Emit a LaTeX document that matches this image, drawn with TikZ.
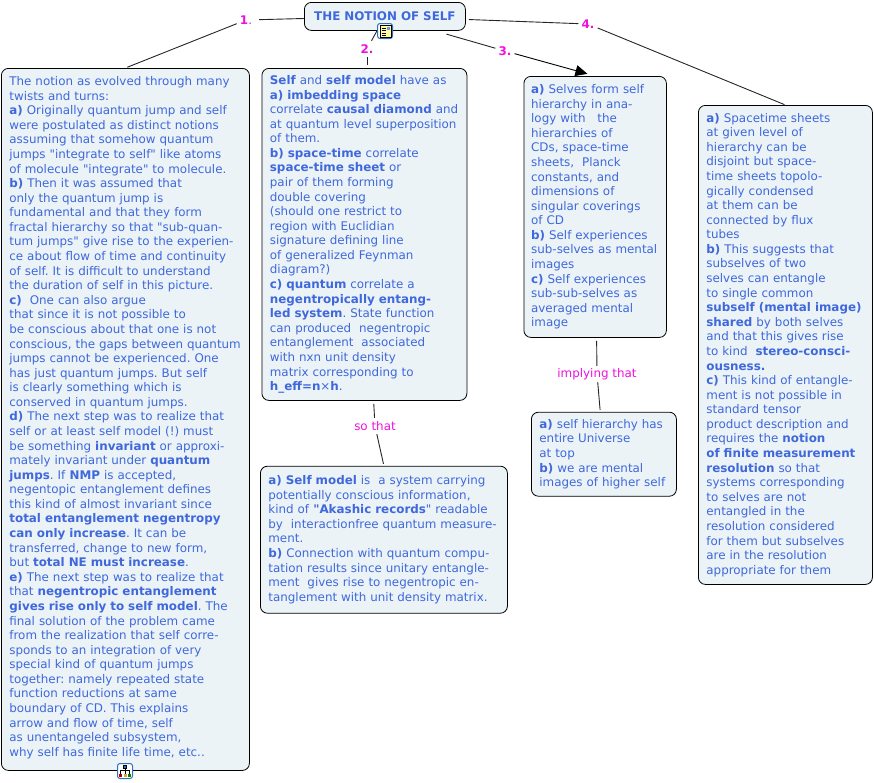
\documentclass[tikz,border=0pt]{standalone}
\usepackage{fontspec}
\setmainfont{DejaVu Sans}[Ligatures=TeXOff]
\usepackage{xcolor}
\usetikzlibrary{arrows.meta, positioning}
\definecolor{selfblue}{HTML}{3F68DC}
\definecolor{selffill}{HTML}{EBF3F7}
\definecolor{selfpink}{HTML}{EE11DD}
\definecolor{iconblue}{HTML}{2F6FC0}
\frenchspacing

\begin{document}
\begin{tikzpicture}[
    x=1pt, y=-1pt,
    textbox/.style={draw=black, line width=0.8pt, rounded corners=7pt, fill=selffill, text=selfblue, align=left, inner xsep=8pt, inner ysep=0pt, font=\fontsize{11.9}{14.58}\selectfont},
    link/.style={font=\fontsize{11.9}{14}\selectfont, text=selfpink, inner xsep=3pt, inner ysep=0pt, minimum height=16pt},
    conn/.style={draw=black!85, line width=0.9pt},
    icon/.style={draw=iconblue, rounded corners=2.5pt, fill=white, line width=1pt, minimum size=15pt, inner sep=0pt},
    arrow/.style={-{Triangle[length=12pt, width=11pt]}, conn, draw=black}
]
    \useasboundingbox (0,0) rectangle (874,782);

    \node[textbox, anchor=north west, text width=145pt, minimum height=28pt, align=center, font=\fontsize{11.9}{14.58}\selectfont\bfseries] (title) at (304,2) {THE NOTION OF SELF};

    \node[textbox, anchor=north west, text width=232pt, minimum height=702pt] (boxone) at (1,68) {The notion as evolved through many\\
twists and turns:\\
\textbf{a)} Originally quantum jump and self\\
were postulated as distinct notions\\
assuming that somehow quantum\\
jumps "integrate to self" like atoms\\
of molecule "integrate" to molecule.\\
\textbf{b)} Then it was assumed that\\
only the quantum jump is\\
fundamental and that they form\\
fractal hierarchy so that "sub-quan-\\
tum jumps" give rise to the experien-\\
ce about flow of time and continuity\\
of self. It is difficult to understand\\
the duration of self in this picture.\\
\textbf{c)}\ \ One can also argue\\
that since it is not possible to\\
be conscious about that one is not\\
conscious, the gaps between quantum\\
jumps cannot be experienced. One\\
has just quantum jumps. But self\\
is clearly something which is\\
conserved in quantum jumps.\\
\textbf{d)} The next step was to realize that\\
self or at least self model (!) must\\
be something \textbf{invariant} or approxi-\\
mately invariant under \textbf{quantum}\\
\textbf{jumps}. If \textbf{NMP} is accepted,\\
negentopic entanglement defines\\
this kind of almost invariant since\\
\textbf{total entanglement negentropy}\\
\textbf{can only increase}. It can be\\
transferred, change to new form,\\
but \textbf{total NE must increase}.\\
\textbf{e)} The next step was to realize that\\
that \textbf{negentropic entanglement}\\
\textbf{gives rise only to self model}. The\\
final solution of the problem came\\
from the realization that self corre-\\
sponds to an integration of very\\
special kind of quantum jumps\\
together: namely repeated state\\
function reductions at same\\
boundary of CD. This explains\\
arrow and flow of time, self\\
as unentangeled subsystem,\\
why self has finite life time, etc..\rule[-6pt]{0pt}{6pt}};

    \node[textbox, anchor=north west, text width=189pt, minimum height=332pt] (boxtwo) at (261.5,68) {\textbf{Self} and \textbf{self model} have as\\
\textbf{a) imbedding space}\\
correlate \textbf{causal diamond} and\\
at quantum level superposition\\
of them.\\
\textbf{b) space-time} correlate\\
\textbf{space-time sheet} or\\
pair of them forming\\
double covering\\
(should one restrict to\\
region with Euclidian\\
signature defining line\\
of generalized Feynman\\
diagram?)\\
\textbf{c) quantum} correlate a\\
\textbf{negentropically entang-}\\
\textbf{led system}. State function\\
can produced\ \ negentropic\\
entanglement\ \ associated\\
with nxn unit density\\
matrix corresponding to\\
\textbf{h\_eff=n}×\textbf{h}.};

    \node[textbox, below=65pt of boxtwo.south west, anchor=north west, xshift=-1.5pt, text width=231pt, minimum height=147pt] (boxso) {\textbf{a) Self model} is\ \ a system carrying\\
potentially conscious information,\\
kind of \textbf{"Akashic records}" readable\\
by\ \ interactionfree quantum measure-\\
ment.\\
\textbf{b)} Connection with quantum compu-\\
tation results since unitary entangle-\\
ment\ \ gives rise to negentropic en-\\
tanglement with unit density matrix.};

    \node[textbox, anchor=north west, text width=128pt, inner xsep=7.25pt, minimum height=261pt] (boxthree) at (523.5,76) {\textbf{a)} Selves form self\\
hierarchy in ana-\\
logy with\ \ \ the\\
hierarchies of\\
CDs, space-time\\
sheets,\ \ Planck\\
constants, and\\
dimensions of\\
singular coverings\\
of CD\\
\textbf{b)} Self experiences\\
sub-selves as mental\\
images\\
\textbf{c)} Self experiences\\
sub-sub-selves as\\
averaged mental\\
image};

    \node[textbox, below=74pt of boxthree.south west, anchor=north west, xshift=7.5pt, text width=129pt, minimum height=84pt] (boximp) {\textbf{a)} self hierarchy has\\
entire Universe\\
at top\\
\textbf{b)} we are mental\\
images of higher self};

    \node[textbox, anchor=north west, text width=158pt, minimum height=479pt] (boxfour) at (698,105) {\textbf{a)} Spacetime sheets\\
at given level of\\
hierarchy can be\\
disjoint but space-\\
time sheets topolo-\\
gically condensed\\
at them can be\\
connected by flux\\
tubes\\
\textbf{b)} This suggests that\\
subselves of two\\
selves can entangle\\
to single common\\
\textbf{subself (mental image)}\\
\textbf{shared} by both selves\\
and that this gives rise\\
to kind\ \ \textbf{stereo-consci-}\\
\textbf{ousness.}\\
\textbf{c)} This kind of entangle-\\
ment is not possible in\\
standard tensor\\
product description and\\
requires the \textbf{notion}\\
\textbf{of finite measurement}\\
\textbf{resolution} so that\\
systems corresponding\\
to selves are not\\
entangled in the\\
resolution considered\\
for them but subselves\\
are in the resolution\\
appropriate for them};

    \node[link] (lblone) at (246,20) {\textbf{1}.};
    \node[link] (lbltwo) at (367,49) {\textbf{2.}};
    \node[link] (lblthree) at (505,51) {\textbf{3.}};
    \node[link] (lblfour) at (588,24) {\textbf{4.}};
    \node[link] (lblso) at (375,426) {so that};
    \node[link] (lblimp) at (597,374) {implying that};

    \draw[conn, shorten >=4pt] (title) -- (lblone);
    \draw[conn, shorten >=2pt] (lblone) -- (boxone.north);
    \draw[conn] (title) -- (lbltwo);
    \draw[conn, shorten >=3pt] (lbltwo) -- (lbltwo |- boxtwo.north);
    \draw[conn, shorten <=12pt] (title) -- (lblthree);
    \draw[arrow, shorten >=8pt] (lblthree) -- (boxthree.north);
    \draw[conn, shorten <=3pt] (title) -- (lblfour);
    \draw[conn, shorten >=1pt] (lblfour) -- (boxfour.north);
    \draw[conn, shorten <=3pt] (boxtwo) -- (lblso);
    \draw[conn, shorten >=2pt] (lblso) -- (boxso.north);
    \draw[conn, shorten <=3pt] (boxthree) -- (lblimp);
    \draw[conn, shorten >=2pt] (lblimp) -- (boximp);

    % little icons on the box borders
    \node[icon] (docicon) at (385,31) {};
    \fill[yellow!35!white, draw=black, line width=0.5pt] (380,25.5) rectangle (391,37);
    \foreach \ypos in {28,30.5,33,35.2}
        \draw[black, line width=0.6pt] (381.5,\ypos) -- (386,\ypos);
    \fill[iconblue!70] (386.5,26.5) rectangle (390,30);

    \node[icon] (treeicon) at (125,771) {};
    \draw[black, line width=0.6pt] (125,767) -- (125,770) (120.5,773.5) -- (120.5,770) -- (129.5,770) -- (129.5,773.5) (125,770) -- (125,773.5);
    \fill[iconblue, draw=black, line width=0.3pt] (123.5,765) rectangle (126.5,768);
    \fill[red!70!black] (119,773.5) rectangle (122,776.5);
    \fill[yellow!70!black] (123.5,773.5) rectangle (126.5,776.5);
    \fill[green!50!black] (128,773.5) rectangle (131,776.5);
\end{tikzpicture}
\end{document}
